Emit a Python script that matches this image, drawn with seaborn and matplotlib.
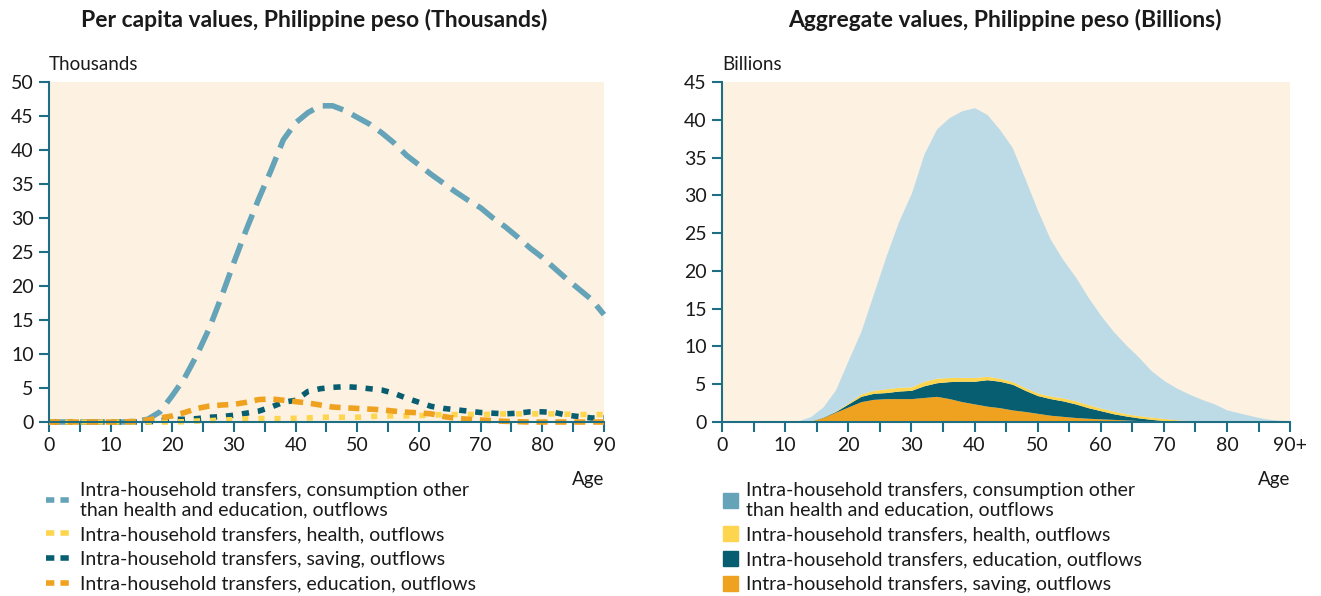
import numpy as np
import pandas as pd
import matplotlib
matplotlib.use("Agg")
import matplotlib.pyplot as plt
from matplotlib.lines import Line2D
from matplotlib.patches import Patch
import seaborn as sns

sns.set_style("white")
plt.rcParams["font.family"] = ["Lato", "DejaVu Sans"]

# ages, two-year steps
ages = list(range(0, 91, 2))

# per capita values, thousands of pesos
pc_consumption = [0, 0, 0, 0, 0, 0, 0, 0.1, 0.4, 1.5, 3.9, 6.5, 9.9, 13.8, 18.5, 23.5,
                  28.3, 32.8, 37.0, 41.5, 44.0, 45.5, 46.5, 46.5, 45.8, 44.8, 43.8, 42.5,
                  41.0, 39.2, 37.8, 36.4, 35.1, 33.8, 32.6, 31.5, 30.0, 28.7, 27.2, 25.6,
                  24.2, 22.6, 21.0, 19.5, 18.0, 15.8]
pc_health = [0, 0, 0, 0, 0, 0, 0, 0, 0, 0, 0, 0.05, 0.15, 0.2, 0.3, 0.35, 0.45, 0.5, 0.5,
             0.5, 0.55, 0.6, 0.7, 0.7, 0.7, 0.7, 0.8, 0.9, 0.9, 0.9, 0.95, 1.0, 1.1, 1.1,
             1.1, 1.1, 1.15, 1.2, 1.2, 1.2, 1.2, 1.2, 1.15, 1.1, 1.1, 1.1]
pc_saving = [0, 0, 0, 0, 0, 0, 0, 0, 0, 0.2, 0.4, 0.4, 0.5, 0.7, 0.8, 1.0, 1.3, 1.6, 2.2,
             2.9, 3.2, 4.5, 4.9, 5.1, 5.2, 5.1, 4.9, 4.7, 4.2, 3.5, 2.9, 2.3, 2.0, 1.8,
             1.6, 1.4, 1.3, 1.2, 1.3, 1.5, 1.5, 1.4, 1.0, 0.8, 0.6, 0.6]
pc_education = [0, 0, 0, 0, 0, 0, 0, 0.1, 0.3, 0.6, 0.9, 1.4, 2.0, 2.35, 2.5, 2.6, 2.9,
                3.3, 3.4, 3.2, 3.0, 2.8, 2.5, 2.2, 2.1, 2.0, 1.9, 1.8, 1.6, 1.45, 1.35,
                1.2, 0.8, 0.55, 0.4, 0.3, 0.2, 0.1, 0.05, 0, 0, 0, 0, 0, 0, 0]

# aggregate values, billions of pesos
ag_saving = [0, 0, 0, 0, 0, 0, 0, 0.15, 0.6, 1.3, 2.0, 2.7, 3.0, 3.1, 3.1, 3.1, 3.25,
             3.4, 3.1, 2.7, 2.4, 2.1, 1.9, 1.6, 1.4, 1.15, 0.9, 0.75, 0.6, 0.5, 0.42,
             0.35, 0.27, 0.2, 0.13, 0.08, 0.04, 0, 0, 0, 0, 0, 0, 0, 0, 0]
ag_education = [0, 0, 0, 0, 0, 0, 0, 0, 0.05, 0.1, 0.4, 0.7, 0.8, 0.8, 1.0, 1.1, 1.55,
                1.8, 2.25, 2.7, 3.0, 3.5, 3.5, 3.4, 2.8, 2.35, 2.2, 2.05, 1.8, 1.4, 1.08,
                0.75, 0.53, 0.35, 0.22, 0.12, 0.01, 0, 0, 0, 0, 0, 0, 0, 0, 0]
ag_health = [0, 0, 0, 0, 0, 0, 0, 0, 0, 0.05, 0.15, 0.3, 0.4, 0.5, 0.5, 0.45, 0.6, 0.6,
             0.55, 0.5, 0.5, 0.45, 0.4, 0.35, 0.35, 0.35, 0.35, 0.4, 0.4, 0.4, 0.35,
             0.35, 0.3, 0.3, 0.3, 0.28, 0.25, 0.2, 0.18, 0.15, 0.12, 0.1, 0.06, 0.04,
             0.02, 0.01]
ag_consumption = [0, 0, 0, 0, 0, 0.1, 0.15, 0.55, 1.35, 2.85, 5.65, 8.3, 12.8, 17.6, 22.0,
                  25.65, 30.1, 33.0, 34.4, 35.3, 35.7, 34.65, 32.9, 30.95, 27.65, 24.15,
                  20.75, 18.3, 16.4, 14.2, 12.25, 10.55, 9.1, 7.75, 6.15, 5.02, 4.2, 3.5,
                  2.82, 2.25, 1.48, 1.1, 0.74, 0.41, 0.23, 0.14]

left_labels = ["Intra-household transfers, consumption other\nthan health and education, outflows",
               "Intra-household transfers, health, outflows",
               "Intra-household transfers, saving, outflows",
               "Intra-household transfers, education, outflows"]
right_labels = ["Intra-household transfers, consumption other\nthan health and education, outflows",
                "Intra-household transfers, health, outflows",
                "Intra-household transfers, education, outflows",
                "Intra-household transfers, saving, outflows"]
x_ticks = list(range(0, 91, 5))
left_xlabels = [str(t) if t % 10 == 0 else "" for t in x_ticks]
right_xlabels = left_xlabels[:-1] + ["90+"]

c_blue = "#65a3b8"
c_blue_fill = "#bddbe7"
c_yellow = "#fdd54f"
c_teal = "#075e70"
c_orange = "#eea21f"
c_bg = "#fdf1e1"
c_axis = "#1f6f84"
c_text = "#1a1a1a"

df = pd.DataFrame({"age": ages, "cons": pc_consumption, "health": pc_health,
                   "saving": pc_saving, "edu": pc_education})

fig = plt.figure(figsize=(13.21, 5.96), dpi=100)
ax1 = fig.add_axes([0.0371, 0.2919, 0.4201, 0.5705])
ax2 = fig.add_axes([0.5466, 0.2919, 0.4300, 0.5705])

styles = [("cons", c_blue, (0, (3.8, 1.8))),
          ("saving", c_teal, (0, (1.3, 1.6))),
          ("health", c_yellow, (0, (1.1, 1.8))),
          ("edu", c_orange, (0, (2.0, 1.4)))]
for col, color, ls in styles:
    sns.lineplot(data=df, x="age", y=col, ax=ax1, color=color, lw=4,
                 linestyle=ls, clip_on=False)

ax2.stackplot(ages, ag_saving, ag_education, ag_health, ag_consumption,
              colors=[c_orange, c_teal, c_yellow, c_blue_fill], lw=0)

for ax, top, xl in [(ax1, 50, left_xlabels), (ax2, 45, right_xlabels)]:
    ax.set_facecolor(c_bg)
    ax.set_xlim(0, 90)
    ax.set_ylim(0, top)
    ax.set_xticks(x_ticks)
    ax.set_xticklabels(xl)
    ax.set_yticks(range(0, top + 1, 5))
    ax.set_xlabel("")
    ax.set_ylabel("")
    for s in ["top", "right"]:
        ax.spines[s].set_visible(False)
    for s in ["left", "bottom"]:
        ax.spines[s].set_color(c_axis)
        ax.spines[s].set_linewidth(1.5)
    ax.tick_params(axis="both", direction="out", length=7, width=1.5, color=c_axis,
                   labelsize=14, labelcolor=c_text, pad=4, bottom=True, left=True)

fig.text(0.238, 0.966, "Per capita values, Philippine peso (Thousands)", ha="center",
         va="center", fontsize=16.5, fontweight="bold", color=c_text)
fig.text(0.761, 0.966, "Aggregate values, Philippine peso (Billions)", ha="center",
         va="center", fontsize=16.5, fontweight="bold", color=c_text)
fig.text(49 / 1321, 1 - 64 / 596, "Thousands", ha="left", va="center", fontsize=13.5, color=c_text)
fig.text(722 / 1321, 1 - 64 / 596, "Billions", ha="left", va="center", fontsize=13.5, color=c_text)
fig.text(604 / 1321, 1 - 480 / 596, "Age", ha="right", va="center", fontsize=13.5, color=c_text)
fig.text(1290 / 1321, 1 - 480 / 596, "Age", ha="right", va="center", fontsize=13.5, color=c_text)

leg_ls = (0, (1.5, 1.1))
left_handles = [Line2D([], [], color=c_blue, lw=4, linestyle=leg_ls),
                Line2D([], [], color=c_yellow, lw=4, linestyle=leg_ls),
                Line2D([], [], color=c_teal, lw=4, linestyle=leg_ls),
                Line2D([], [], color=c_orange, lw=4, linestyle=leg_ls)]
fig.legend(left_handles, left_labels, loc="upper left",
           bbox_to_anchor=(36 / 1321, 1 - 472 / 596), frameon=False, fontsize=14,
           handlelength=1.45, handletextpad=0.3, labelspacing=0.4, borderpad=0,
           labelcolor=c_text)

right_handles = [Patch(color=c_blue), Patch(color=c_yellow), Patch(color=c_teal),
                 Patch(color=c_orange)]
fig.legend(right_handles, right_labels, loc="upper left",
           bbox_to_anchor=(713 / 1321, 1 - 472 / 596), frameon=False, fontsize=14,
           handlelength=0.8, handleheight=0.8, handletextpad=0.4, labelspacing=0.4,
           borderpad=0, labelcolor=c_text)

fig.savefig("out.png", dpi=100)
